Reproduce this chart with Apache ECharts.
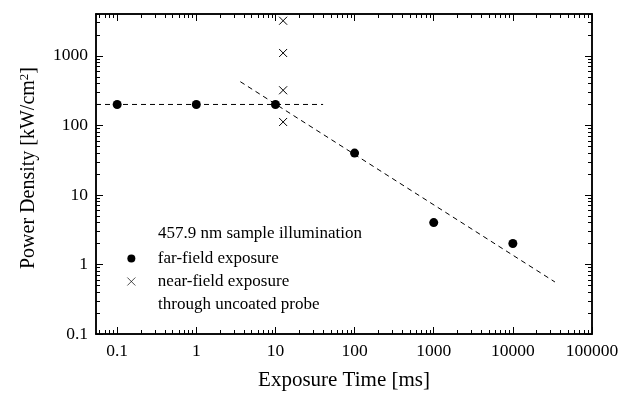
<!DOCTYPE html>
<html>
<head>
<meta charset="utf-8">
<script type="text/javascript" src="https://cdn.jsdelivr.net/npm/echarts@6/dist/echarts.min.js"></script>
<style>
 html, body { margin: 0; padding: 0; background: #fff; }
 #chart { width: 628px; height: 396px; }
</style>
</head>
<body>
<div id="chart"></div>
<script type="text/javascript">
// values (ms, kW/cm2)
var farTime = [0.1, 1, 10, 100, 1000, 10000];
var farPower = [200, 200, 200, 40, 4, 2];
var nearTime = [12.5, 12.5, 12.5, 12.5];
var nearPower = [3200, 1100, 320, 112];
var plateauTime = [0.054, 40];
var plateauPower = [200, 200];
var slopeTime = [3.6, 34000];
var slopePower = [425, 0.56];

var xTickValues = [0.1, 1, 10, 100, 1000, 10000, 100000];
var xTickLabels = ['0.1', '1', '10', '100', '1000', '10000', '100000'];
var yTickValues = [0.1, 1, 10, 100, 1000];
var yTickLabels = ['0.1', '1', '10', '100', '1000'];

var xRange = [0.054, 100000];
var yRange = [0.1, 4000];

var FONT = '"Liberation Serif", "DejaVu Serif", serif';

function lg(v) { return Math.log10(v); }
function pairs(xs, ys) {
 var out = [];
 for (var i = 0; i < xs.length; i++) out.push([lg(xs[i]), lg(ys[i])]);
 return out;
}
// minor ticks 2..9 of every decade inside the range
function minorTicks(range) {
 var out = [];
 for (var e = Math.floor(lg(range[0])); e <= Math.ceil(lg(range[1])); e++) {
  for (var k = 2; k <= 9; k++) {
   var v = k * Math.pow(10, e);
   if (v >= range[0] && v <= range[1]) out.push(lg(v));
  }
 }
 return out;
}
function labelFor(vals, labels) {
 return function (v) {
  for (var i = 0; i < vals.length; i++) {
   if (Math.abs(lg(vals[i]) - v) < 1e-6) return labels[i];
  }
  return '';
 };
}

var axisLine = { show: true, onZero: false, lineStyle: { color: '#000', width: 1.5 } };

function makeAxis(range, pos, major, withLabels, vals, labels, name, nameSize) {
 var ax = {
  type: 'value',
  position: pos,
  min: lg(range[0]),
  max: lg(range[1]),
  splitLine: { show: false },
  axisLine: axisLine,
  axisTick: {
   show: true, inside: true,
   length: major ? 7 : 4,
   lineStyle: { color: '#000', width: 1 },
   customValues: major ? vals.map(lg) : minorTicks(range)
  },
  axisLabel: { show: false }
 };
 if (withLabels) {
  ax.axisLabel = {
   show: true,
   customValues: vals.map(lg),
   formatter: labelFor(vals, labels),
   color: '#000',
   fontFamily: FONT,
   fontSize: 17.5,
   margin: 8
  };
  ax.name = name;
  ax.nameLocation = 'middle';
  ax.nameTextStyle = {
   color: '#000', fontFamily: FONT, fontSize: nameSize,
   rich: { sup: { fontFamily: FONT, fontSize: 13, color: '#000', verticalAlign: 'top', padding: [0, 0, 8, 0] } }
  };
 }
 return ax;
}

var xAxes = [
 makeAxis(xRange, 'bottom', true, true, xTickValues, xTickLabels, 'Exposure Time [ms]', 21),
 makeAxis(xRange, 'bottom', false, false, xTickValues),
 makeAxis(xRange, 'top', true, false, xTickValues),
 makeAxis(xRange, 'top', false, false, xTickValues)
];
xAxes[0].nameGap = 36;

var yAxes = [
 makeAxis(yRange, 'left', true, true, yTickValues, yTickLabels, 'Power Density [kW/cm{sup|2}]', 20),
 makeAxis(yRange, 'left', false, false, yTickValues),
 makeAxis(yRange, 'right', true, false, yTickValues),
 makeAxis(yRange, 'right', false, false, yTickValues)
];
yAxes[0].nameGap = 57;
yAxes[0].nameTextStyle.padding = [0, 0, 0, 12];

var crossPath = 'path://M0,0L10,10M10,0L0,10';

var option = {
 animation: false,
 backgroundColor: '#fff',
 grid: { left: 96, right: 36, top: 14, bottom: 60 },
 xAxis: xAxes,
 yAxis: yAxes,
 legend: {
  orient: 'vertical',
  left: 122,
  top: 244,
  itemWidth: 8,
  itemHeight: 8,
  itemGap: 4,
  selectedMode: false,
  textStyle: { color: '#000', fontFamily: FONT, fontSize: 17, lineHeight: 19, padding: [0, 0, 0, 17.5] },
  data: [
   { name: 'far-field exposure' },
   { name: 'near-field exposure', itemStyle: { borderWidth: 0.7 } }
  ]
 },
 graphic: [
  { type: 'text', left: 158, top: 225, style: { text: '457.9 nm sample illumination', fill: '#000', font: '17px ' + FONT } },
  { type: 'text', left: 158, top: 296, style: { text: 'through uncoated probe', fill: '#000', font: '17px ' + FONT } }
 ],
 series: [
  {
   name: 'plateau', type: 'line', data: pairs(plateauTime, plateauPower),
   symbol: 'none', lineStyle: { color: '#000', width: 1, type: [5, 4] }, silent: true
  },
  {
   name: 'slope', type: 'line', data: pairs(slopeTime, slopePower),
   symbol: 'none', lineStyle: { color: '#000', width: 1, type: [5, 4] }, silent: true
  },
  {
   name: 'far-field exposure', type: 'scatter', data: pairs(farTime, farPower),
   symbol: 'circle', symbolSize: 9, itemStyle: { color: '#000', opacity: 1 }
  },
  {
   name: 'near-field exposure', type: 'scatter', data: pairs(nearTime, nearPower),
   symbol: crossPath, symbolSize: 8,
   itemStyle: { color: 'transparent', borderColor: '#000', borderWidth: 1, opacity: 1 }
  }
 ]
};

var myChart = echarts.init(document.getElementById('chart'));
myChart.setOption(option);
</script>
</body>
</html>
